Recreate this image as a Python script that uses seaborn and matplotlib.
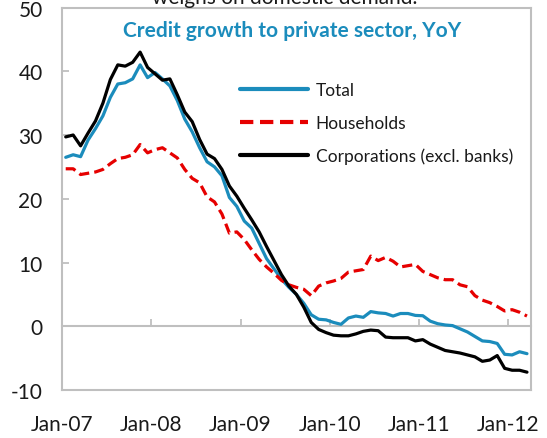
import matplotlib
matplotlib.use("Agg")
import matplotlib.pyplot as plt
import pandas as pd
import seaborn as sns

# Monthly YoY credit growth, Jan-07 .. Mar-12 (%)
total = [26.5, 26.9, 26.6, 29.2, 31.0, 33.0, 35.9, 38.0, 38.2, 38.8, 41.0, 39.0,
         39.8, 38.8, 37.7, 35.4, 32.5, 30.5, 28.0, 25.8, 25.0, 23.6, 20.2, 18.8,
         16.5, 15.4, 13.0, 10.6, 9.0, 7.4, 6.1, 5.0, 3.6, 1.8, 1.1, 1.0,
         0.6, 0.3, 1.3, 1.6, 1.4, 2.3, 2.1, 2.0, 1.6, 2.0, 2.0, 1.7,
         1.65, 0.8, 0.4, 0.2, 0.1, -0.4, -0.9, -1.6, -2.3, -2.4, -2.7, -4.4,
         -4.5, -4.0, -4.3]
households = [24.7, 24.7, 23.8, 24.0, 24.2, 24.6, 25.5, 26.3, 26.5, 26.9, 28.5, 27.2,
              27.7, 28.0, 27.2, 26.4, 24.6, 23.2, 22.5, 20.3, 19.5, 17.6, 14.6, 14.8,
              13.6, 12.0, 10.5, 9.3, 8.3, 7.2, 6.5, 6.1, 5.8, 4.8, 6.3, 6.8,
              7.1, 7.5, 8.5, 8.7, 8.9, 11.0, 10.3, 10.8, 10.2, 9.3, 9.5, 9.7,
              8.6, 8.1, 7.6, 7.3, 7.3, 6.5, 6.2, 4.8, 4.1, 3.7, 3.1, 2.4,
              2.6, 2.2, 1.6]
corporations = [29.7, 30.0, 28.3, 30.3, 32.2, 35.0, 38.7, 41.0, 40.8, 41.4, 43.0, 40.6,
                39.6, 38.6, 38.8, 36.3, 33.6, 32.1, 29.3, 27.0, 26.3, 24.6, 22.0, 20.4,
                18.5, 16.7, 14.8, 12.5, 10.3, 8.1, 6.3, 5.0, 3.0, 0.6, -0.5, -1.0,
                -1.4, -1.5, -1.5, -1.2, -0.8, -0.6, -0.7, -1.7, -1.8, -1.8, -1.8, -2.3,
                -2.1, -2.8, -3.3, -3.8, -4.0, -4.2, -4.5, -4.8, -5.5, -5.3, -4.6, -6.6,
                -6.9, -6.9, -7.2]

series_names = ["Total", "Households", "Corporations (excl. banks)"]
tick_labels = ["Jan-07", "Jan-08", "Jan-09", "Jan-10", "Jan-11", "Jan-12"]
y_ticks = [-10, 0, 10, 20, 30, 40, 50]

# months since Jan-07, each observation plotted mid-month
month = [i + 0.5 for i in range(len(total))]
df = pd.concat([
    pd.DataFrame({"month": month, "value": vals, "series": name})
    for name, vals in zip(series_names, [total, households, corporations])
], ignore_index=True)

BLUE = "#1B8CBC"
RED = "#E60000"
GREY = "#BFBFBF"
TEXT = "#1a1a1a"

sns.set_theme(style="white")
plt.rcParams["font.family"] = ["Lato", "DejaVu Sans"]
plt.rcParams["axes.unicode_minus"] = False

fig = plt.figure(figsize=(5.47, 4.39), dpi=100)
ax = fig.add_axes([62 / 547, 1 - 391 / 439, 468.7 / 547, 382.5 / 439])

sns.lineplot(
    data=df, x="month", y="value", hue="series", style="series",
    hue_order=series_names, style_order=series_names,
    palette={"Total": BLUE, "Households": RED, "Corporations (excl. banks)": "black"},
    dashes={"Total": "", "Households": (3.2, 1.6), "Corporations (excl. banks)": ""},
    linewidth=2.3, ax=ax,
)

ax.set_xlim(0, 63)
ax.set_ylim(-10, 50)
ax.set_xlabel("")
ax.set_ylabel("")

ax.set_xticks([12 * k for k in range(len(tick_labels))])
ax.set_xticklabels(tick_labels)
ax.set_yticks(y_ticks)
ax.tick_params(axis="x", length=0, pad=17, labelsize=15, labelcolor=TEXT)
ax.tick_params(axis="y", direction="in", length=5, width=1.3, color=GREY,
               pad=14, labelsize=15, labelcolor=TEXT, left=True)
for sp in ax.spines.values():
    sp.set_color(GREY)
    sp.set_linewidth(1.5)

# horizontal axis crossing at zero, with upward tick marks
zero_pos = (0 - (-10)) / 60
sec = ax.secondary_xaxis(zero_pos)
sec.set_xticks([12 * k for k in range(len(tick_labels))])
sec.tick_params(direction="in", length=5, width=1.3, color=GREY, labelbottom=False)
sec.spines["bottom"].set_color(GREY)
sec.spines["bottom"].set_linewidth(1.5)

handles, labels = ax.get_legend_handles_labels()
leg = ax.legend(handles, labels, loc="upper left", bbox_to_anchor=(0.38, 0.805),
                frameon=False, fontsize=12.5, handlelength=3.9, handletextpad=0.45,
                labelspacing=0.95, borderpad=0, borderaxespad=0)
for t in leg.get_texts():
    t.set_color(TEXT)
for h in leg.get_lines():
    h.set_linewidth(3.0)

ax.text(0.49, 0.94, "Credit growth to private sector, YoY", transform=ax.transAxes,
        ha="center", va="center", fontsize=15, fontweight="bold", color=BLUE)

fig.text(0.521, 1 - 3.5 / 439, "weighs on domestic demand.", ha="center",
         va="baseline", fontsize=15, color=TEXT)

fig.savefig("out.png", dpi=100)
